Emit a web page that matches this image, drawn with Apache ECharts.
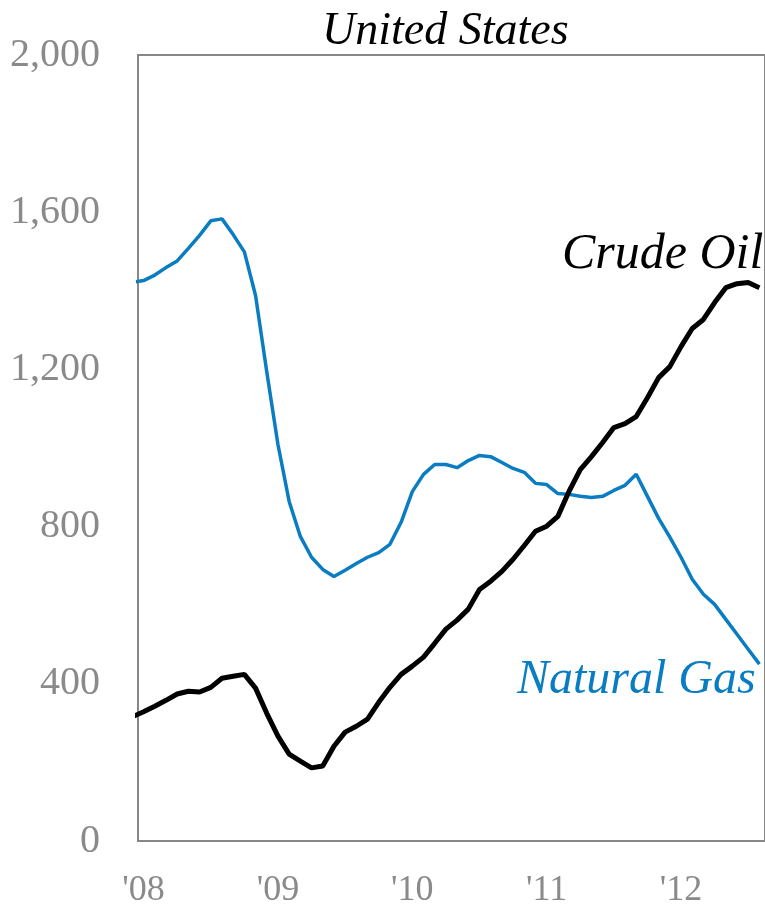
<!DOCTYPE html>
<html>
<head>
<meta charset="utf-8">
<script src="https://cdn.jsdelivr.net/npm/echarts@6/dist/echarts.min.js"></script>
<style>
  html, body { margin: 0; padding: 0; background: #fff; }
  #main { width: 765px; height: 909px; }
</style>
</head>
<body>
<div id="main"></div>
<script>
// monthly rig counts, Dec '07 (partly hidden behind the axis) to Aug '12
var months = ['2007-12',
  '2008-01','2008-02','2008-03','2008-04','2008-05','2008-06','2008-07','2008-08','2008-09','2008-10','2008-11','2008-12',
  '2009-01','2009-02','2009-03','2009-04','2009-05','2009-06','2009-07','2009-08','2009-09','2009-10','2009-11','2009-12',
  '2010-01','2010-02','2010-03','2010-04','2010-05','2010-06','2010-07','2010-08','2010-09','2010-10','2010-11','2010-12',
  '2011-01','2011-02','2011-03','2011-04','2011-05','2011-06','2011-07','2011-08','2011-09','2011-10','2011-11','2011-12',
  '2012-01','2012-02','2012-03','2012-04','2012-05','2012-06','2012-07','2012-08'];

var crudeOil = [316,
  329, 343, 358, 374, 381, 379, 391, 414, 419, 424, 389, 325,
  267, 221, 203, 186, 191, 241, 277, 292, 310, 353, 391, 424,
  445, 468, 503, 539, 562, 590, 640, 661, 686, 717, 752, 788,
  801, 826, 890, 945, 978, 1014, 1052, 1062, 1080, 1128, 1179, 1207,
  1258, 1304, 1327, 1370, 1408, 1418, 1421, 1408];

var naturalGas = [1422,
  1426, 1440, 1459, 1476, 1508, 1541, 1578, 1583, 1543, 1499, 1388, 1194,
  1009, 864, 775, 722, 691, 673, 689, 706, 722, 734, 755, 811,
  889, 933, 958, 958, 950, 968, 981, 978, 963, 948, 938, 910,
  907, 884, 882, 877, 874, 877, 892, 905, 933, 877, 821, 773,
  722, 666, 628, 602, 564, 526, 488, 450];

var yearTicks = [1, 13, 25, 37, 49];           // index of January in months
var yearLabels = ["'08", "'09", "'10", "'11", "'12"];

function toPairs(arr) {
  return arr.map(function (v, i) { return [i, v]; });
}

var serif = '"Liberation Serif", "DejaVu Serif", serif';
var blue = '#0A7DC2';

var chart = echarts.init(document.getElementById('main'));

chart.setOption({
  animation: false,
  grid: {
    left: 138, right: -3, top: 55, bottom: 67,
    show: true, borderColor: '#888888', borderWidth: 2
  },
  xAxis: {
    type: 'value',
    min: 0.5,
    max: 56.5,
    splitLine: { show: false },
    axisLine: { show: false },
    axisTick: { show: false },
    axisLabel: {
      customValues: yearTicks,
      formatter: function (v) {
        var k = yearTicks.indexOf(Math.round(v));
        return k >= 0 ? yearLabels[k] : '';
      },
      color: '#8a8a8a',
      fontFamily: serif,
      fontSize: 36,
      margin: 32
    }
  },
  yAxis: {
    type: 'value',
    min: 0,
    max: 2000,
    interval: 400,
    splitLine: { show: false },
    axisLine: { show: false },
    axisTick: { show: false },
    axisLabel: {
      formatter: function (v) { return v.toLocaleString('en-US'); },
      color: '#8a8a8a',
      fontFamily: serif,
      fontSize: 40,
      margin: 38
    }
  },
  series: [
    {
      name: 'Natural Gas',
      type: 'line',
      data: toPairs(naturalGas),
      showSymbol: false,
      lineStyle: { color: blue, width: 3.5 }
    },
    {
      name: 'Crude Oil',
      type: 'line',
      data: toPairs(crudeOil),
      showSymbol: false,
      lineStyle: { color: '#000000', width: 5 }
    }
  ],
  graphic: [
    {
      type: 'text', left: 322, top: 9,
      style: { text: 'United States', fill: '#000',
        font: 'italic 46px ' + serif }
    },
    {
      type: 'text', left: 562, top: 230,
      style: { text: 'Crude Oil', fill: '#000', font: 'italic 50px ' + serif }
    },
    {
      type: 'text', left: 517, top: 656,
      style: { text: 'Natural Gas', fill: blue, font: 'italic 48px ' + serif }
    }
  ]
});
</script>
</body>
</html>
